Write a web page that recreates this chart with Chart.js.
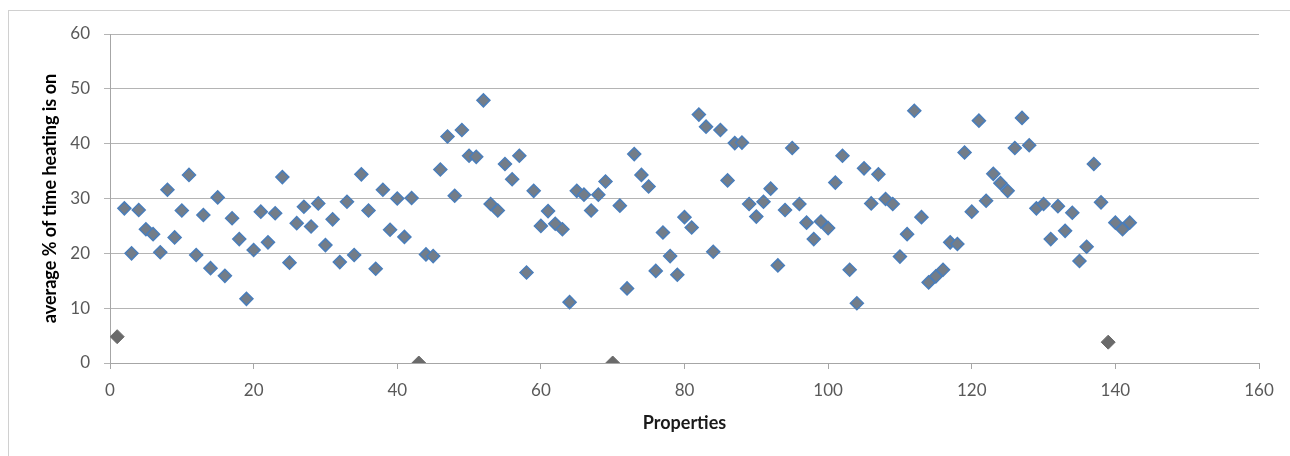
<!DOCTYPE html>
<html>
<head>
<meta charset="utf-8">
<script src="https://cdn.jsdelivr.net/npm/chart.js@4.4.0/dist/chart.umd.min.js"></script>
<style>
    body { margin: 0; background: #fff; }
    #frame {
        position: absolute; left: 8px; top: 10px; width: 1290px; height: 450px;
        border: 1px solid #d0d0d0; box-sizing: border-box;
    }
    #wrap { position: absolute; left: 0; top: 0; width: 1290px; height: 456px; }
</style>
</head>
<body>
<div id="frame"></div>
<div id="wrap"><canvas id="heatingChart"></canvas></div>
<script>
// average % of time heating is on, one value per property (1..142)
const heatingPct = [
    4.8, 28.2, 20.0, 27.9, 24.4, 23.5, 20.2, 31.6, 22.9, 27.8,
    34.3, 19.7, 27.0, 17.3, 30.2, 15.9, 26.4, 22.6, 11.7, 20.6,
    27.6, 22.0, 27.3, 33.9, 18.3, 25.5, 28.5, 24.9, 29.1, 21.5,
    26.2, 18.4, 29.4, 19.7, 34.4, 27.8, 17.2, 31.6, 24.3, 30.0,
    23.0, 30.1, 0.0, 19.8, 19.5, 35.3, 41.3, 30.5, 42.5, 37.8,
    37.6, 47.9, 29.0, 27.8, 36.3, 33.5, 37.8, 16.5, 31.4, 25.0,
    27.7, 25.4, 24.4, 11.1, 31.4, 30.7, 27.8, 30.7, 33.1, 0.0,
    28.7, 13.6, 38.1, 34.3, 32.2, 16.8, 23.8, 19.5, 16.1, 26.6,
    24.7, 45.3, 43.1, 20.3, 42.5, 33.3, 40.1, 40.2, 29.0, 26.7,
    29.4, 31.8, 17.8, 27.9, 39.2, 29.0, 25.6, 22.6, 25.8, 24.6,
    32.9, 37.8, 17.0, 10.9, 35.5, 29.1, 34.4, 29.9, 29.0, 19.4,
    23.5, 46.0, 26.6, 14.7, 15.8, 17.0, 22.0, 21.7, 38.4, 27.6,
    44.2, 29.6, 34.5, 32.8, 31.4, 39.2, 44.7, 39.7, 28.2, 29.0,
    22.6, 28.6, 24.1, 27.4, 18.6, 21.2, 36.3, 29.3, 3.8, 25.6,
    24.4, 25.6
];

// properties drawn in plain grey (no blue outline)
const flaggedProps = [1, 43, 70, 139];

const yTicks = [0, 10, 20, 30, 40, 50, 60];
const xTicks = [0, 20, 40, 60, 80, 100, 120, 140, 160];

const mainPoints = [];
const flaggedPoints = [];
heatingPct.forEach((v, i) => {
    const prop = i + 1;
    if (flaggedProps.includes(prop)) flaggedPoints.push({ x: prop, y: v });
    else mainPoints.push({ x: prop, y: v });
});

const tickFont = { family: 'Lato', size: 17 };

new Chart(document.getElementById('heatingChart'), {
    type: 'scatter',
    data: {
        datasets: [
            {
                data: flaggedPoints,
                pointStyle: 'rectRot',
                pointRadius: 7,
                backgroundColor: '#6a6a6a',
                borderColor: '#6a6a6a',
                borderWidth: 1
            },
            {
                data: mainPoints,
                pointStyle: 'rectRot',
                pointRadius: 6.5,
                backgroundColor: '#737d89',
                borderColor: '#4a7ebb',
                borderWidth: 1.5
            }
        ]
    },
    options: {
        responsive: true,
        maintainAspectRatio: false,
        animation: false,
        layout: { padding: { left: 0, right: 31, top: 34, bottom: 0 } },
        plugins: {
            legend: { display: false },
            tooltip: { enabled: false }
        },
        scales: {
            x: {
                type: 'linear',
                min: 0,
                max: 160,
                afterBuildTicks: scale => { scale.ticks = xTicks.map(v => ({ value: v })); },
                afterFit: scale => { scale.height = 93; },
                grid: {
                    drawOnChartArea: false,
                    tickLength: 6,
                    color: '#a6a6a6'
                },
                border: { color: '#a6a6a6' },
                ticks: { color: '#595959', font: tickFont, padding: 11, maxRotation: 0 },
                title: {
                    display: true,
                    text: 'Properties',
                    color: '#1a1a1a',
                    font: { family: 'Lato', size: 18, weight: 'bold' },
                    padding: { top: 0, bottom: 22 }
                }
            },
            y: {
                min: 0,
                max: 60,
                afterBuildTicks: scale => { scale.ticks = yTicks.map(v => ({ value: v })); },
                afterFit: scale => { scale.width = 110; },
                grid: {
                    color: '#b4b4b4',
                    tickLength: 6
                },
                border: { color: '#a6a6a6' },
                ticks: { color: '#595959', font: tickFont, padding: 14 },
                title: {
                    display: true,
                    text: 'average % of time heating is on',
                    color: '#000',
                    font: { family: 'Lato', size: 18, weight: 'bold' },
                    padding: { top: 39, bottom: 0 }
                }
            }
        }
    }
});
</script>
</body>
</html>
